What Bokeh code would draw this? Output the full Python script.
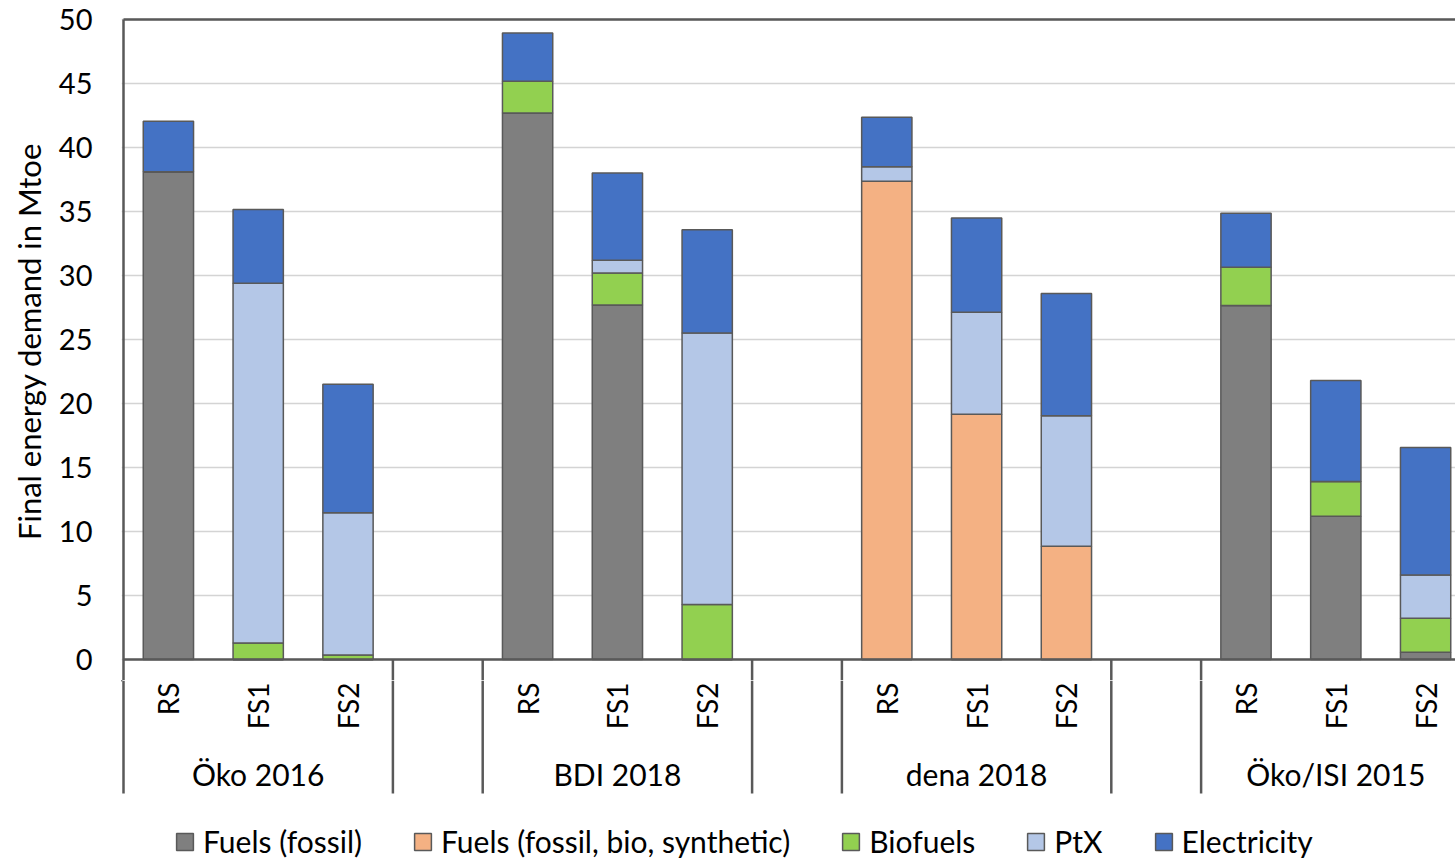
import math

from bokeh.core.properties import value
from bokeh.embed import file_html
from bokeh.layouts import column
from bokeh.models import ColumnDataSource, FixedTicker, Range1d
from bokeh.plotting import figure
from bokeh.resources import INLINE

# Studies and their scenarios (reference scenario + two climate scenarios)
studies = ["Öko 2016", "BDI 2018", "dena 2018", "Öko/ISI 2015"]
scenarios = ["RS", "FS1", "FS2"]

# Final energy demand in Mtoe, one entry per study/scenario
fuels_fossil = [38.1, 0.0, 0.0, 42.7, 27.7, 0.0, 0.0, 0.0, 0.0, 27.66, 11.2, 0.57]
fuels_mixed = [0.0, 0.0, 0.0, 0.0, 0.0, 0.0, 37.37, 19.16, 8.85, 0.0, 0.0, 0.0]
biofuels = [0.0, 1.28, 0.36, 2.47, 2.5, 4.3, 0.0, 0.0, 0.0, 2.99, 2.7, 2.66]
ptx = [0.0, 28.12, 11.1, 0.0, 1.0, 21.2, 1.13, 7.97, 10.19, 0.0, 0.0, 3.37]
electricity = [3.95, 5.76, 10.04, 3.78, 6.8, 8.07, 3.87, 7.37, 9.56, 4.22, 7.9, 9.96]

series_keys = ["fossil", "mixed", "bio", "ptx", "elec"]
series_names = ["Fuels (fossil)", "Fuels (fossil, bio, synthetic)", "Biofuels", "PtX", "Electricity"]
series_colors = ["#7f7f7f", "#f4b183", "#92d050", "#b4c7e7", "#4472c4"]
y_ticks = list(range(0, 51, 5))

# ---- layout ----
W, H = 1455, 859
LEFT, TOP = 121, 2           # frame starts 2px left of the axis line so it is not clipped
AXIS_TOP_PX = 19             # pixel row of the 50 line
BASE_PX = 659                # pixel row of the zero line
SPLIT = 680                  # where the bar panel hands over to the category panel
SLOT = 89.8                  # px per category slot
PPU = 12.8                   # px per Mtoe
Y_MAX = 50
FONT = "Lato"
INK = "#000000"
LINE = "#595959"

per_group = len(scenarios) + 1   # one empty slot separates the studies
x_pos = [g * per_group + s + 0.5 for g in range(len(studies)) for s in range(len(scenarios))]
x_last = len(studies) * per_group

x_start = -2 / SLOT
x_end = x_start + (W - LEFT) / SLOT
x_range = Range1d(x_start, x_end)

top_y_end = Y_MAX + (AXIS_TOP_PX - TOP) / PPU
top_y_start = -(SPLIT - BASE_PX) / PPU
bot_y_start = -(H - BASE_PX) / PPU
depth = 134 / PPU                # category band below the zero line

# ---------- bar panel ----------
p = figure(
    width=W, height=SPLIT,
    x_range=x_range, y_range=Range1d(top_y_start, top_y_end),
    x_axis_location=None, toolbar_location=None, output_backend="svg",
    min_border_left=LEFT, min_border_right=0, min_border_top=TOP, min_border_bottom=0,
)
p.outline_line_color = None
p.xgrid.grid_line_color = None
p.ygrid.grid_line_color = "#d4d4d4"
p.ygrid.grid_line_width = 1.5

ax = p.yaxis[0]
ax.ticker = FixedTicker(ticks=y_ticks)
ax.axis_line_color = None
ax.major_tick_line_color = None
ax.major_tick_out = 0
ax.major_tick_in = 0
ax.minor_tick_line_color = None
ax.major_label_standoff = 29
ax.major_label_text_font = FONT
ax.major_label_text_font_size = "29px"
ax.major_label_text_color = INK
ax.axis_label = "Final energy demand in Mtoe"
ax.axis_label_standoff = 8
ax.axis_label_text_font = FONT
ax.axis_label_text_font_size = "31px"
ax.axis_label_text_font_style = "normal"
ax.axis_label_text_color = INK

src = ColumnDataSource(dict(
    x=x_pos, fossil=fuels_fossil, mixed=fuels_mixed, bio=biofuels, ptx=ptx, elec=electricity,
))
p.vbar_stack(
    series_keys, x="x", width=0.56, source=src,
    fill_color=series_colors, line_color=LINE, line_width=1.5,
)

# separators between studies
seps = []
for g in range(len(studies)):
    for edge in (g * per_group, g * per_group + len(scenarios)):
        if edge > 0:
            seps.append(edge)

# top border, left axis, zero line, and separator stubs down to the panel edge
p.segment(x0=[0, 0, 0], y0=[Y_MAX, Y_MAX, 0], x1=[x_last, 0, x_last], y1=[Y_MAX, top_y_start, 0],
          line_color=LINE, line_width=2.5)
p.segment(x0=seps, y0=[0] * len(seps), x1=seps, y1=[top_y_start] * len(seps),
          line_color=LINE, line_width=2.5)

# ---------- category panel with legend ----------
q = figure(
    width=W, height=H - SPLIT,
    x_range=x_range, y_range=Range1d(bot_y_start, top_y_start),
    x_axis_location=None, y_axis_location=None, toolbar_location=None, output_backend="svg",
    min_border_left=LEFT, min_border_right=0, min_border_top=0, min_border_bottom=0,
)
q.outline_line_color = None
q.xgrid.grid_line_color = None
q.ygrid.grid_line_color = None

edges = [0] + seps
q.segment(x0=edges, y0=[top_y_start] * len(edges), x1=edges, y1=[-depth] * len(edges),
          line_color=LINE, line_width=2.5)

# scenario labels (rotated, reading upwards) and study labels, offset from the zero line
q.text(x=x_pos, y=[0] * len(x_pos), text=scenarios * len(studies),
       angle=math.pi / 2, y_offset=23, text_align="right", text_baseline="middle",
       text_font=value(FONT), text_font_size="28px", text_color=INK)
group_x = [g * per_group + len(scenarios) / 2 for g in range(len(studies))]
q.text(x=group_x, y=[0] * len(studies), text=studies, y_offset=114,
       text_align="center", text_baseline="middle",
       text_font=value(FONT), text_font_size="30px", text_color=INK)

# legend swatches mirror the bar series
for name, color in zip(series_names, series_colors):
    q.vbar(x=[x_start - 10], top=[1], width=0.5, fill_color=color, line_color=LINE,
           line_width=1.5, legend_label=name)

leg = q.legend[0]
leg.orientation = "horizontal"
leg.location = (53, 0)
leg.padding = 0
leg.margin = 0
leg.spacing = 50
leg.glyph_width = 21
leg.glyph_height = 21
leg.label_standoff = 8
leg.label_text_font = FONT
leg.label_text_font_size = "30px"
leg.label_text_color = INK
leg.background_fill_alpha = 0
leg.border_line_alpha = 0

layout = column(p, q, spacing=0)
open("out.html", "w").write(file_html(layout, INLINE))
